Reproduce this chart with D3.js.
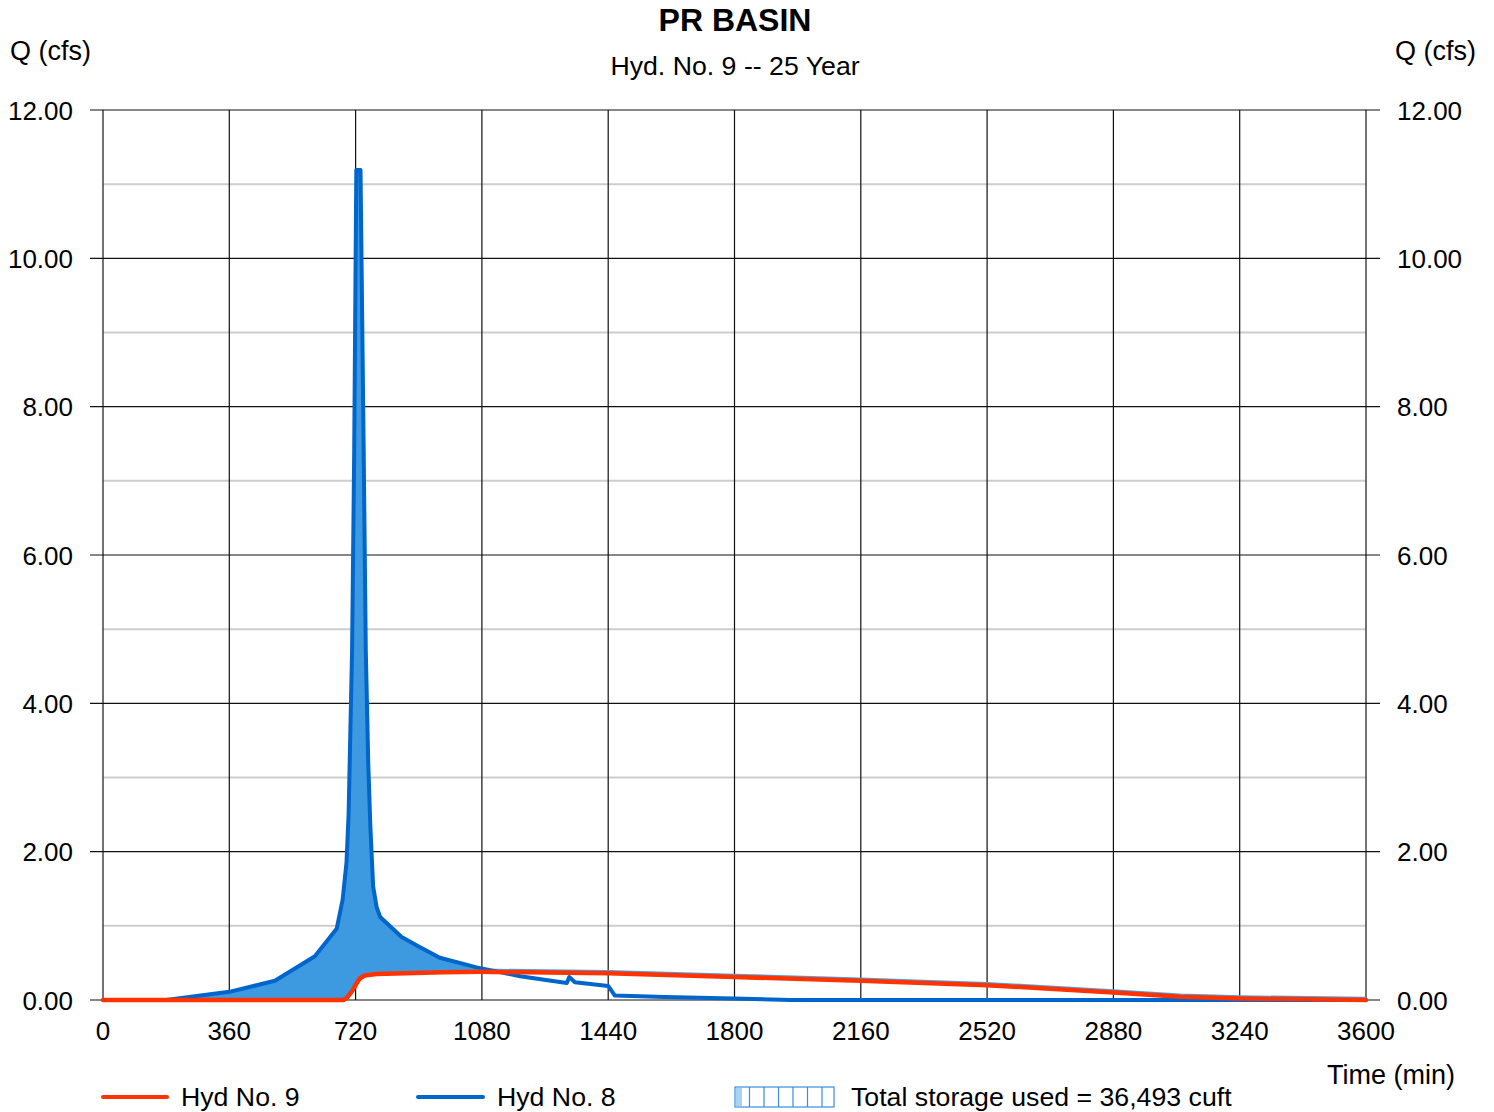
<!DOCTYPE html>
<html>
<head>
<meta charset="utf-8">
<script src="https://cdn.jsdelivr.net/npm/d3@7"></script>
<style>
  html, body { margin: 0; padding: 0; background: #fff; }
  svg { display: block; font-family: "Liberation Sans", Arial, sans-serif; }
</style>
</head>
<body>
<svg id="chart" width="1494" height="1112"></svg>
<script>
// Inflow hydrograph (Hyd No. 8): time (min), flow (cfs)
const inflowTime = [0, 180, 360, 490, 604, 666, 683, 694, 700, 710, 716, 722, 734, 743, 749, 756, 762, 770, 780, 790, 851, 900, 960, 1065, 1189, 1322, 1329, 1345, 1440, 1459, 1600, 1796, 1958, 3600];
const inflowQ    = [0, 0, 0.11, 0.26, 0.59, 0.96, 1.35, 1.85, 2.5, 4.72, 7.4, 11.19, 11.19, 7.42, 4.72, 3.2, 2.35, 1.53, 1.25, 1.12, 0.85, 0.72, 0.57, 0.44, 0.32, 0.23, 0.31, 0.24, 0.19, 0.06, 0.04, 0.02, 0, 0];

// Outflow hydrograph (Hyd No. 9)
const outflowTime = [0, 685, 695, 710, 722, 732, 745, 780, 970, 1080, 1440, 1800, 2160, 2520, 2880, 3070, 3240, 3600];
const outflowQ    = [0, 0, 0.03, 0.12, 0.22, 0.29, 0.33, 0.35, 0.375, 0.38, 0.36, 0.31, 0.26, 0.20, 0.10, 0.045, 0.02, 0];

const xTicks = [0, 360, 720, 1080, 1440, 1800, 2160, 2520, 2880, 3240, 3600];
const yMajor = [0, 2, 4, 6, 8, 10, 12];
const yMinor = [1, 3, 5, 7, 9, 11];

const titleText = "PR BASIN";
const subtitleText = "Hyd. No. 9 -- 25 Year";
const yAxisLabel = "Q (cfs)";
const xAxisLabel = "Time (min)";
const legendItems = ["Hyd No. 9", "Hyd No. 8", "Total storage used = 36,493 cuft"];

const RED = "#ff3300", BLUE = "#0066cc", FILL = "#3d9ae0", LIGHT = "#4aa3e6";

const svg = d3.select("#chart");
const x = d3.scaleLinear().domain([0, 3600]).range([103, 1366]);
const y = d3.scaleLinear().domain([0, 12]).range([1000, 110]);

const inflow = inflowTime.map((t, i) => ({ t, q: inflowQ[i] }));
const outflow = outflowTime.map((t, i) => ({ t, q: outflowQ[i] }));

// Linear lookup used to put both hydrographs on a common time grid for the storage fill
function at(series, t) {
  for (let i = 1; i < series.length; i++) {
    if (t <= series[i].t) {
      const a = series[i - 1], b = series[i];
      const f = (t - a.t) / (b.t - a.t || 1);
      return a.q + f * (b.q - a.q);
    }
  }
  return series[series.length - 1].q;
}
const grid = Array.from(new Set([...inflowTime, ...outflowTime])).sort((a, b) => a - b);
const storage = grid.map(t => {
  const qi = at(inflow, t), qo = at(outflow, t);
  return { t, top: Math.max(qi, qo), bottom: qo };
});

// Grid: minor horizontal (gray), major horizontal and vertical (black)
const g = svg.append("g");
g.selectAll("line.minor").data(yMinor).join("line")
  .attr("x1", x(0)).attr("x2", x(3600))
  .attr("y1", d => y(d)).attr("y2", d => y(d))
  .attr("stroke", "#cdcdcd").attr("stroke-width", 2);
g.selectAll("line.vgrid").data(xTicks).join("line")
  .attr("x1", d => x(d)).attr("x2", d => x(d))
  .attr("y1", y(12)).attr("y2", y(0))
  .attr("stroke", d => (d === 0 || d === 3600) ? "#444" : "#111")
  .attr("stroke-width", d => (d === 0 || d === 3600) ? 1.5 : 1.2);
g.selectAll("line.major").data(yMajor).join("line")
  .attr("x1", x(0) - 13).attr("x2", x(3600) + 14)
  .attr("y1", d => y(d)).attr("y2", d => y(d))
  .attr("stroke", "#111").attr("stroke-width", 1.2);

// Storage fill between inflow and outflow
const area = d3.area().x(d => x(d.t)).y0(d => y(d.bottom)).y1(d => y(d.top));
svg.append("path").datum(storage).attr("d", area).attr("fill", FILL);

// Thin edge of the storage polygon riding on the outflow curve
const line = d3.line().x(d => x(d.t)).y(d => y(d.q));
svg.append("path").datum(outflow.filter(d => d.t >= 1060))
  .attr("d", line).attr("fill", "none")
  .attr("stroke", LIGHT).attr("stroke-width", 2.5)
  .attr("transform", "translate(0,-2)");

svg.append("path").datum(inflow).attr("d", line)
  .attr("fill", "none").attr("stroke", BLUE).attr("stroke-width", 4)
  .attr("stroke-linejoin", "round");
svg.append("path").datum(outflow).attr("d", line)
  .attr("fill", "none").attr("stroke", RED).attr("stroke-width", 4.5)
  .attr("stroke-linejoin", "round").attr("stroke-linecap", "round");

// Axis tick labels
const fmt = d3.format(".2f");
svg.selectAll("text.yl").data(yMajor).join("text")
  .attr("x", 73).attr("y", d => y(d) + 9.5)
  .attr("text-anchor", "end").attr("font-size", 26).text(d => fmt(d));
svg.selectAll("text.yr").data(yMajor).join("text")
  .attr("x", 1397).attr("y", d => y(d) + 9.5)
  .attr("text-anchor", "start").attr("font-size", 26).text(d => fmt(d));
svg.selectAll("text.xl").data(xTicks).join("text")
  .attr("x", d => x(d)).attr("y", 1040)
  .attr("text-anchor", "middle").attr("font-size", 26).text(d => d);

// Titles and axis names
svg.append("text").attr("x", 735).attr("y", 31).attr("text-anchor", "middle")
  .attr("font-size", 32).attr("font-weight", "bold").text(titleText);
svg.append("text").attr("x", 735).attr("y", 75).attr("text-anchor", "middle")
  .attr("font-size", 26.7).text(subtitleText);
svg.append("text").attr("x", 10).attr("y", 60).attr("font-size", 27).text(yAxisLabel);
svg.append("text").attr("x", 1476).attr("y", 60).attr("text-anchor", "end")
  .attr("font-size", 27).text(yAxisLabel);
svg.append("text").attr("x", 1455).attr("y", 1084).attr("text-anchor", "end")
  .attr("font-size", 27).text(xAxisLabel);

// Legend
const lg = svg.append("g");
lg.append("line").attr("x1", 103).attr("x2", 167).attr("y1", 1097).attr("y2", 1097)
  .attr("stroke", RED).attr("stroke-width", 4).attr("stroke-linecap", "round");
lg.append("text").attr("x", 181).attr("y", 1106).attr("font-size", 26.7).text(legendItems[0]);
lg.append("line").attr("x1", 418).attr("x2", 483).attr("y1", 1097).attr("y2", 1097)
  .attr("stroke", BLUE).attr("stroke-width", 4).attr("stroke-linecap", "round");
lg.append("text").attr("x", 497).attr("y", 1106).attr("font-size", 26.7).text(legendItems[1]);
lg.append("rect").attr("x", 735).attr("y", 1087).attr("width", 99).attr("height", 20)
  .attr("fill", "#fff").attr("stroke", "#3a8ee0").attr("stroke-width", 1.2);
lg.append("rect").attr("x", 736).attr("y", 1088).attr("width", 6).attr("height", 18)
  .attr("fill", "#a9d2f3");
lg.selectAll("line.hatch").data(d3.range(1, 7)).join("line")
  .attr("x1", d => 735 + d * 14.5).attr("x2", d => 735 + d * 14.5)
  .attr("y1", 1087).attr("y2", 1107)
  .attr("stroke", "#3a8ee0").attr("stroke-width", 1.2);
lg.append("text").attr("x", 851).attr("y", 1106).attr("font-size", 26.7).text(legendItems[2]);
</script>
</body>
</html>
